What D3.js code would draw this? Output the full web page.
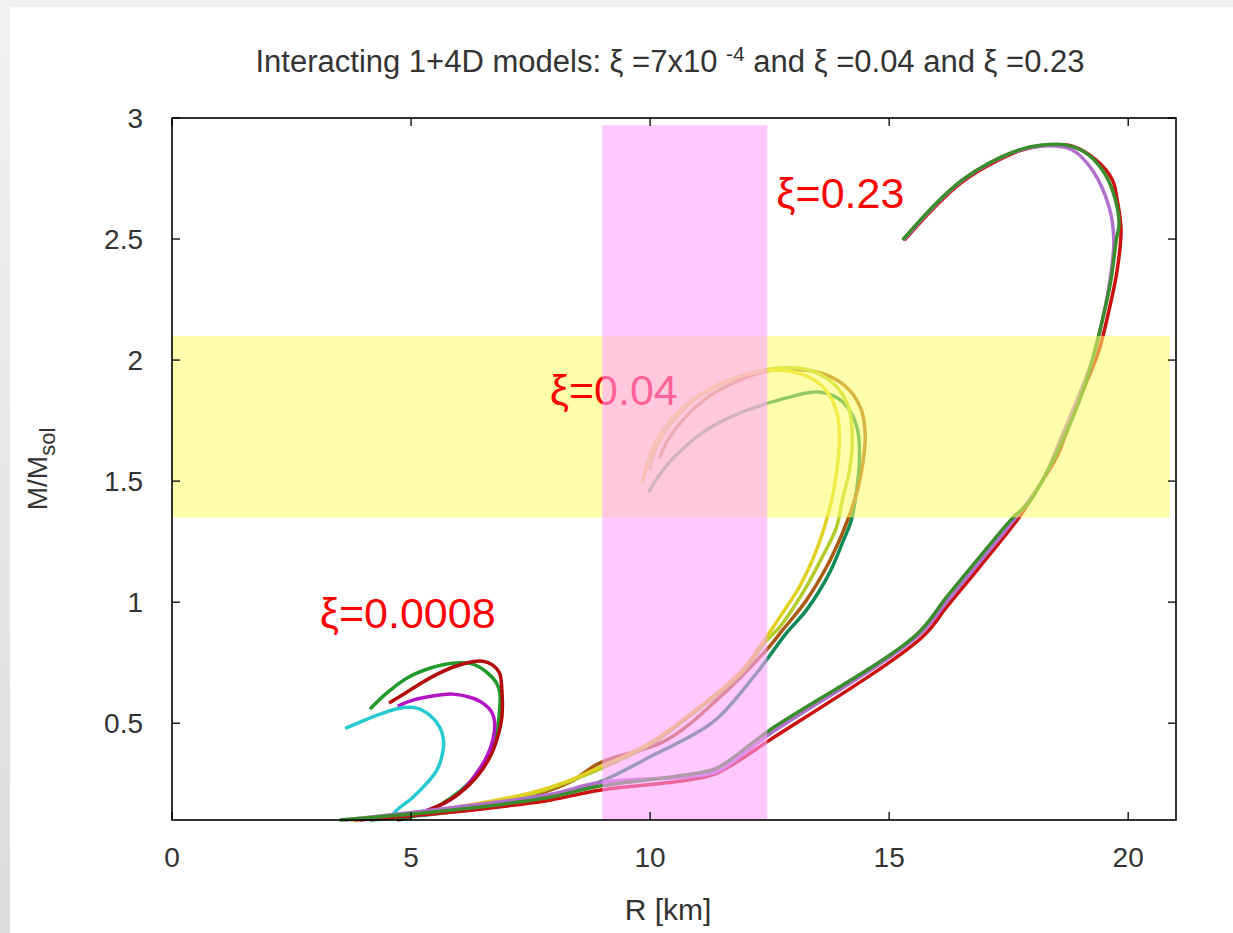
<!DOCTYPE html>
<html>
<head>
<meta charset="utf-8">
<script src="https://cdn.jsdelivr.net/npm/d3@7"></script>
<style>
  body { margin: 0; background: #fff; }
  svg { display: block; font-family: "Liberation Sans", Arial, sans-serif; }
</style>
</head>
<body>
<svg id="chart" width="1233" height="933"></svg>
<script>
// axis ticks
const xTicks = [0, 5, 10, 15, 20];
const yTicks = [0.5, 1, 1.5, 2, 2.5, 3];

// shaded bands (R range in km, M range in Msol)
const pinkBand = [9, 12.45];
const yellowBand = [1.35, 2.1];

// xi = 0.0008 curves  [R, M]
const small_green = [[4.14,0.558],[4.49,0.624],[4.91,0.686],[5.39,0.727],[5.87,0.748],[6.29,0.744],[6.58,0.711],[6.79,0.665],[6.86,0.62],[6.85,0.55],[6.79,0.46],[6.63,0.37],[6.38,0.29],[6.03,0.22],[5.63,0.165],[5.2,0.125],[4.75,0.1]];
const small_magenta = [[4.72,0.570],[5.04,0.595],[5.45,0.612],[5.87,0.620],[6.23,0.607],[6.50,0.583],[6.69,0.545],[6.75,0.500],[6.71,0.430],[6.58,0.360],[6.37,0.293],[6.08,0.223],[5.75,0.174],[5.33,0.140],[4.87,0.110]];
const small_red = [[4.54,0.583],[4.91,0.628],[5.39,0.686],[5.87,0.731],[6.23,0.752],[6.50,0.756],[6.71,0.740],[6.85,0.707],[6.90,0.636],[6.90,0.525],[6.81,0.442],[6.65,0.360],[6.37,0.277],[6.02,0.211],[5.60,0.161],[5.18,0.128],[4.70,0.10]];
const small_cyan = [[3.62,0.479],[3.93,0.504],[4.35,0.537],[4.76,0.562],[5.12,0.562],[5.39,0.533],[5.60,0.483],[5.68,0.430],[5.66,0.376],[5.54,0.306],[5.33,0.252],[5.04,0.194],[4.70,0.140],[4.56,0.107]];

// xi = 0.04 curves
const mid_teal = [[4.14,0.10],[5.81,0.132],[7.48,0.182],[8.32,0.215],[8.94,0.256],[9.99,0.360],[11.31,0.504],[12.20,0.70],[12.85,0.872],[13.27,0.967],[13.75,1.12],[14.02,1.244],[14.21,1.339],[14.32,1.463],[14.38,1.587],[14.34,1.711],[14.17,1.793],[13.92,1.843],[13.54,1.868],[13.27,1.864],[12.92,1.847],[12.46,1.822],[11.87,1.781],[11.24,1.719],[10.72,1.640],[10.30,1.554],[9.97,1.455]];
const mid_brown = [[3.93,0.10],[5.81,0.140],[7.48,0.198],[8.32,0.256],[8.94,0.335],[10.34,0.430],[11.39,0.595],[12.43,0.802],[12.77,0.884],[13.27,1.008],[13.69,1.145],[13.96,1.256],[14.13,1.339],[14.34,1.463],[14.46,1.587],[14.50,1.690],[14.42,1.793],[14.17,1.876],[13.75,1.934],[13.23,1.959],[12.71,1.959],[12.46,1.955],[11.87,1.917],[11.24,1.851],[10.72,1.760],[10.37,1.669],[10.20,1.595]];
const mid_yellowgreen = [[3.72,0.10],[5.81,0.145],[7.48,0.205],[8.32,0.26],[8.94,0.31],[9.99,0.41],[11.03,0.56],[11.93,0.71],[12.43,0.84],[12.71,0.897],[13.19,1.037],[13.60,1.186],[13.90,1.310],[14.02,1.421],[14.17,1.545],[14.23,1.669],[14.17,1.793],[13.96,1.876],[13.65,1.930],[13.23,1.963],[12.71,1.967],[12.18,1.950],[11.56,1.909],[11.03,1.851],[10.62,1.781],[10.30,1.702],[10.09,1.620],[9.99,1.545]];
const mid_yellow = [[3.72,0.10],[5.81,0.149],[7.48,0.211],[8.32,0.264],[8.94,0.318],[9.99,0.417],[11.03,0.566],[11.93,0.719],[12.43,0.855],[12.77,0.955],[13.12,1.062],[13.48,1.215],[13.69,1.339],[13.82,1.442],[13.92,1.566],[13.96,1.669],[13.92,1.773],[13.75,1.855],[13.44,1.917],[13.02,1.950],[12.60,1.959],[12.08,1.942],[11.45,1.901],[10.93,1.843],[10.47,1.760],[10.14,1.669],[9.95,1.579],[9.84,1.492]];

// xi = 0.23 curves
const big_red = [[3.82,0.10],[5.81,0.132],[7.90,0.182],[8.94,0.223],[10.76,0.264],[11.39,0.293],[12.50,0.430],[15.69,0.855],[16.20,0.979],[16.89,1.145],[17.72,1.351],[18.08,1.463],[18.50,1.599],[18.83,1.764],[19.12,1.905],[19.39,2.041],[19.60,2.207],[19.77,2.372],[19.85,2.537],[19.77,2.661],[19.67,2.744],[19.33,2.826],[18.83,2.884],[18.35,2.888],[17.72,2.864],[17.09,2.806],[16.53,2.736],[15.99,2.640],[15.32,2.496]];
const big_purple = [[3.62,0.10],[5.81,0.150],[7.90,0.205],[8.94,0.255],[10.83,0.28],[11.39,0.30],[12.50,0.455],[15.60,0.86],[16.20,1.0],[16.89,1.165],[17.65,1.35],[18.2,1.5],[18.6,1.68],[19.0,1.87],[19.25,2.0],[19.46,2.165],[19.62,2.331],[19.70,2.496],[19.60,2.632],[19.25,2.785],[18.83,2.868],[18.35,2.885],[17.72,2.866],[17.09,2.812],[16.53,2.742],[15.99,2.646],[15.30,2.496]];
const big_green = [[3.51,0.10],[5.81,0.140],[7.90,0.194],[8.94,0.240],[10.83,0.289],[11.39,0.314],[12.50,0.471],[15.55,0.862],[16.20,1.021],[16.89,1.186],[17.58,1.347],[17.93,1.413],[18.29,1.533],[18.70,1.698],[19.04,1.864],[19.25,2.0],[19.46,2.165],[19.64,2.331],[19.75,2.496],[19.81,2.566],[19.67,2.702],[19.46,2.785],[19.12,2.855],[18.70,2.888],[18.20,2.888],[17.72,2.868],[17.09,2.814],[16.53,2.744],[15.99,2.649],[15.28,2.496]];

const curves = [
  {pts: small_green, color: "#22992a"},
  {pts: small_magenta, color: "#b414c4"},
  {pts: small_red, color: "#b40c0c"},
  {pts: small_cyan, color: "#26cad2"},
  {pts: mid_teal, color: "#0e8a56"},
  {pts: mid_brown, color: "#a85a12"},
  {pts: mid_yellowgreen, color: "#b4cc2a"},
  {pts: mid_yellow, color: "#e2d022"},
  {pts: big_red, color: "#cc1010"},
  {pts: big_purple, color: "#b070cc"},
  {pts: big_green, color: "#3a8c2c"}
];

const labels = [
  {text: "\u03BE=0.0008", R: 3.09, M: 0.893},
  {text: "\u03BE=0.04", R: 7.90, M: 1.814},
  {text: "\u03BE=0.23", R: 12.64, M: 2.628}
];

const W = 1233, H = 933;
const margin = {left: 172, right: 57, top: 118, bottom: 113};
const svg = d3.select("#chart");

// light grey page edge like the screenshot
const grad = svg.append("defs").append("linearGradient")
  .attr("id", "edge").attr("x1", 0).attr("y1", 0).attr("x2", 0).attr("y2", 1);
grad.append("stop").attr("offset", "0%").attr("stop-color", "#f2f2f2");
grad.append("stop").attr("offset", "100%").attr("stop-color", "#dcdcdc");
svg.append("rect").attr("width", W).attr("height", H).attr("fill", "#fff");
svg.append("rect").attr("width", W).attr("height", 7).attr("fill", "#f1f1f1");
svg.append("rect").attr("width", 10).attr("height", H).attr("fill", "url(#edge)");

const x = d3.scaleLinear().domain([0, 21]).range([margin.left, W - margin.right]);
const y = d3.scaleLinear().domain([0.1, 3]).range([H - margin.bottom, margin.top]);

const line = d3.line()
  .x(d => x(d[0])).y(d => y(d[1]))
  .curve(d3.curveCatmullRom.alpha(0.5));

const plot = svg.append("g");

plot.selectAll("path.curve")
  .data(curves)
  .join("path")
  .attr("class", "curve")
  .attr("d", d => line(d.pts))
  .attr("fill", "none")
  .attr("stroke", d => d.color)
  .attr("stroke-width", 3.5)
  .attr("stroke-linejoin", "round");

// yellow band tints the curves under it
plot.append("rect")
  .attr("x", x(0)).attr("width", x(20.87) - x(0))
  .attr("y", y(yellowBand[1])).attr("height", y(yellowBand[0]) - y(yellowBand[1]))
  .attr("fill", "#ffff66").attr("opacity", 0.55);

plot.selectAll("text.xi")
  .data(labels)
  .join("text")
  .attr("class", "xi")
  .attr("x", d => x(d.R))
  .attr("y", d => y(d.M))
  .attr("fill", "#ff0000")
  .attr("font-size", 43)
  .text(d => d.text);

// pink band on top of everything inside the frame
plot.append("rect")
  .attr("x", x(pinkBand[0])).attr("width", x(pinkBand[1]) - x(pinkBand[0]))
  .attr("y", y(2.97)).attr("height", y(0.1) - y(2.97))
  .attr("fill", "#ffa3ff").attr("opacity", 0.6);

// axes gnuplot style: inward ticks on all four sides
const tickLen = 8;
const axes = svg.append("g").attr("stroke", "#000").attr("stroke-width", 1.3);
xTicks.forEach(t => {
  axes.append("line").attr("x1", x(t)).attr("x2", x(t)).attr("y1", y(0.1)).attr("y2", y(0.1) - tickLen);
  axes.append("line").attr("x1", x(t)).attr("x2", x(t)).attr("y1", y(3)).attr("y2", y(3) + tickLen);
});
yTicks.forEach(t => {
  axes.append("line").attr("x1", x(0)).attr("x2", x(0) + tickLen).attr("y1", y(t)).attr("y2", y(t));
  axes.append("line").attr("x1", x(21)).attr("x2", x(21) - tickLen).attr("y1", y(t)).attr("y2", y(t));
});
svg.append("rect")
  .attr("x", x(0)).attr("y", y(3))
  .attr("width", x(21) - x(0)).attr("height", y(0.1) - y(3))
  .attr("fill", "none").attr("stroke", "#000").attr("stroke-width", 1.6);

svg.append("g").selectAll("text")
  .data(xTicks).join("text")
  .attr("x", d => x(d)).attr("y", y(0.1) + 47)
  .attr("text-anchor", "middle").attr("font-size", 28).attr("fill", "#333")
  .text(d => d);
svg.append("g").selectAll("text")
  .data(yTicks).join("text")
  .attr("x", x(0) - 29).attr("y", d => y(d) + 10)
  .attr("text-anchor", "end").attr("font-size", 28).attr("fill", "#333")
  .text(d => d);

// title
const title = svg.append("text")
  .attr("x", 670).attr("y", 72)
  .attr("text-anchor", "middle").attr("font-size", 31).attr("fill", "#333");
title.append("tspan").text("Interacting 1+4D models: \u03BE =7x10 ");
title.append("tspan").attr("dy", -11).attr("font-size", 21).text("-4");
title.append("tspan").attr("dy", 11).text(" and \u03BE =0.04 and \u03BE =0.23");

// axis labels
svg.append("text")
  .attr("x", 668).attr("y", 920)
  .attr("text-anchor", "middle").attr("font-size", 30).attr("fill", "#333")
  .text("R [km]");
const ylab = svg.append("text")
  .attr("transform", "translate(47," + y(1.55) + ") rotate(-90)")
  .attr("text-anchor", "middle").attr("font-size", 28).attr("fill", "#333");
ylab.append("tspan").text("M/M");
ylab.append("tspan").attr("dy", 8).attr("font-size", 22).text("sol");
</script>
</body>
</html>
